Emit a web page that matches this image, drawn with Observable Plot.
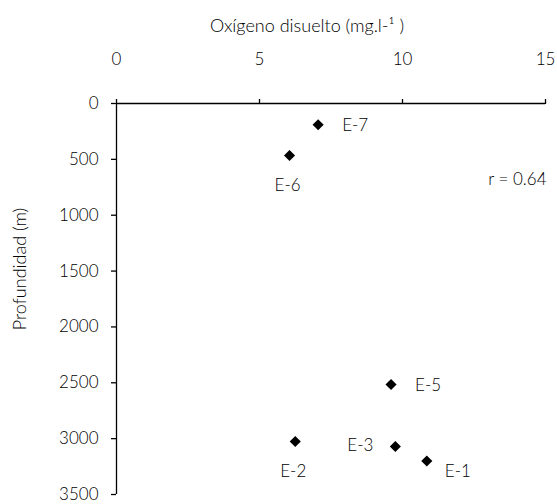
<!DOCTYPE html>
<html>
<head>
<meta charset="utf-8">
<script src="https://cdn.jsdelivr.net/npm/d3@7"></script>
<script src="https://cdn.jsdelivr.net/npm/@observablehq/plot@0.6"></script>
<style>
  html, body { margin: 0; padding: 0; background: #fff; }
  svg text { font-family: Lato, "Open Sans", sans-serif; }
</style>
</head>
<body>
<div id="chart"></div>
<script>
// Data
const stations = ["E-1", "E-2", "E-3", "E-5", "E-6", "E-7"];
const oxygen   = [10.85, 6.25, 9.75, 9.6, 6.05, 7.05];   // mg/l
const depth    = [3200, 3025, 3070, 2515, 465, 190];      // m
const xTicks = [0, 5, 10, 15];
const yTicks = [0, 500, 1000, 1500, 2000, 2500, 3000, 3500];
const xTitle = "Oxígeno disuelto (mg.l-¹ )";
const yTitle = "Profundidad (m)";
const annotation = "r = 0.64";

const data = stations.map((s, i) => ({station: s, o2: oxygen[i], depth: depth[i]}));

const rightLabels = ["E-7", "E-5"];
const rightLow = ["E-1"];
const leftLabels = ["E-3"];
const belowLabels = ["E-6", "E-2"];
const pick = (list) => data.filter(d => list.includes(d.station));

const tickFont = 17;
const labelFont = 17;
const chart = Plot.plot({
  width: 557,
  height: 504,
  marginLeft: 116,
  marginRight: 12,
  marginTop: 103,
  marginBottom: 10,
  style: {fontSize: tickFont + "px", fontFamily: "Lato, 'Open Sans', sans-serif", color: "#000", background: "#fff"},
  x: {domain: [0, 15]},
  y: {domain: [0, 3500], reverse: true},
  marks: [
    Plot.ruleY([0], {stroke: "#000", strokeWidth: 1.3}),
    Plot.ruleX([0], {stroke: "#000", strokeWidth: 1.3}),
    Plot.axisX({anchor: "top", ticks: xTicks, tickSize: 5, tickPadding: 34, label: null,
                fontSize: tickFont, stroke: "#000", strokeWidth: 1.3, fontWeight: 300}),
    Plot.axisY({anchor: "left", ticks: yTicks, tickSize: 5, tickPadding: 13, label: null,
                tickFormat: d3.format("d"), fontSize: tickFont, stroke: "#000", strokeWidth: 1.3, fontWeight: 300}),
    Plot.dot(data, {x: "o2", y: "depth", symbol: "diamond2", r: 5, fill: "#000", stroke: "none"}),
    Plot.text(pick(rightLabels), {x: "o2", y: "depth", text: "station", textAnchor: "start", dx: 24, dy: 1, fontSize: labelFont, fontWeight: 300}),
    Plot.text(pick(rightLow), {x: "o2", y: "depth", text: "station", textAnchor: "start", dx: 18, dy: 11, fontSize: labelFont, fontWeight: 300}),
    Plot.text(pick(leftLabels), {x: "o2", y: "depth", text: "station", textAnchor: "end", dx: -22, dy: -1, fontSize: labelFont, fontWeight: 300}),
    Plot.text(pick(belowLabels), {x: "o2", y: "depth", text: "station", textAnchor: "middle", dx: -2, dy: 30, fontSize: labelFont, fontWeight: 300}),
    Plot.text([annotation], {frameAnchor: "top-right", textAnchor: "end", dx: 1, dy: 69, fontSize: labelFont, fontWeight: 300}),
    Plot.text([xTitle], {frameAnchor: "top", textAnchor: "middle", dx: -24, dy: -84, fontSize: 18, fontWeight: 300}),
    Plot.text([yTitle], {frameAnchor: "left", textAnchor: "middle", rotate: -90, dx: -96, dy: -30, fontSize: 18, fontWeight: 300})
  ]
});
document.getElementById("chart").appendChild(chart);
</script>
</body>
</html>
